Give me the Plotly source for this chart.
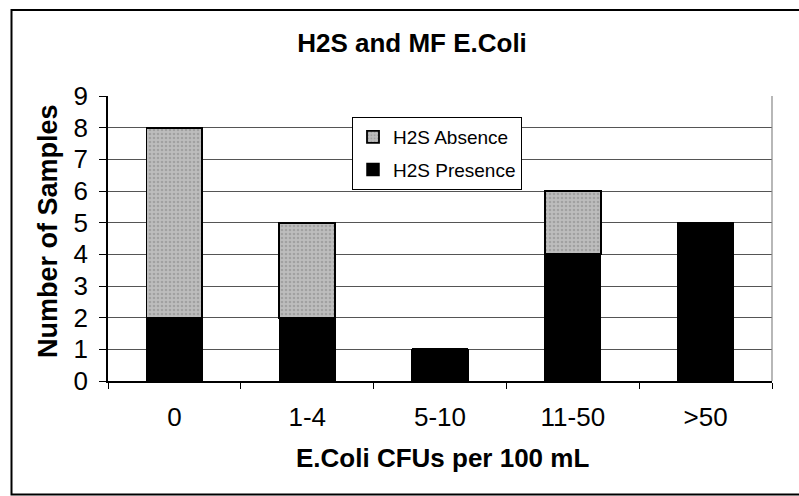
import plotly.graph_objects as go

categories = ["0", "1-4", "5-10", "11-50", ">50"]
presence = [2, 2, 1, 4, 5]
absence = [6, 3, 0, 2, 0]
y_ticks = list(range(0, 10))

FONT = "Liberation Sans, Arial, sans-serif"
L, R, T, B = 108, 27, 96, 115
W, H = 799, 496
PW, PH = W - L - R, H - T - B

def px_x(p):
    return (p - L) / PW

def px_y(p):
    return (H - B - p) / PH

fig = go.Figure()
fig.add_trace(go.Bar(
    x=categories, y=presence, name="H2S Presence", legendgroup="p", legendrank=2,
    marker=dict(color="#000000", line=dict(color="#000000", width=1.5)),
))
fig.add_trace(go.Bar(
    x=categories, y=absence, name="H2S Absence", legendgroup="a", legendrank=1,
    marker=dict(color="#bcbcbc", line=dict(color="#000000", width=1.8),
                pattern=dict(shape=".", bgcolor="#bdbdbd", fgcolor="#868686",
                             size=4, solidity=0.35)),
))

fig.update_layout(
    width=W, height=H,
    margin=dict(l=L, r=R, t=T, b=B),
    barmode="stack", bargap=0.58,
    paper_bgcolor="white", plot_bgcolor="white",
    font=dict(family=FONT, color="black"),
    title=dict(text="<b>H2S and MF E.Coli</b>", font=dict(size=26, family=FONT, color="black"),
               xref="paper", x=px_x(412), xanchor="center",
               yref="container", y=1 - 43 / H, yanchor="middle"),
    showlegend=True,
    legend=dict(x=px_x(352), y=px_y(117), xanchor="left", yanchor="top",
                bgcolor="white", bordercolor="black", borderwidth=1,
                font=dict(size=19, family=FONT, color="black"),
                itemwidth=30,
                traceorder="grouped", tracegroupgap=5),
    xaxis=dict(type="category", range=[-0.5, 4.5], showline=True, linecolor="black", linewidth=1.5,
               ticks="outside", tickson="boundaries", ticklen=6, tickcolor="black",
               tickfont=dict(size=26, family=FONT, color="black"), ticklabelstandoff=12,
               showgrid=False, fixedrange=True),
    yaxis=dict(range=[0, 9], tickvals=y_ticks, showline=True, linecolor="black", linewidth=1.5,
               ticks="outside", ticklen=7, tickcolor="black",
               tickfont=dict(size=26, family=FONT, color="black"), ticklabelstandoff=6,
               showgrid=True, gridcolor="#555555", gridwidth=1, zeroline=False),
    annotations=[
        dict(text="<b>Number of Samples</b>", textangle=-90, xref="paper", yref="paper",
             x=px_x(48), y=px_y(231), xanchor="center", yanchor="middle", showarrow=False,
             font=dict(size=27, family=FONT, color="black")),
        dict(text="<b>E.Coli CFUs per 100 mL</b>", xref="paper", yref="paper",
             x=px_x(442), y=px_y(458), xanchor="center", yanchor="middle", showarrow=False,
             font=dict(size=26, family=FONT, color="black")),
    ],
    shapes=[
        dict(type="line", xref="paper", yref="paper", x0=1, x1=1, y0=0, y1=1,
             line=dict(color="#888888", width=1.2)),
        dict(type="rect", xref="paper", yref="paper",
             x0=px_x(11.5), x1=px_x(810), y0=px_y(494.5), y1=px_y(10),
             line=dict(color="black", width=2)),
    ],
)

fig.write_html("out.html")
